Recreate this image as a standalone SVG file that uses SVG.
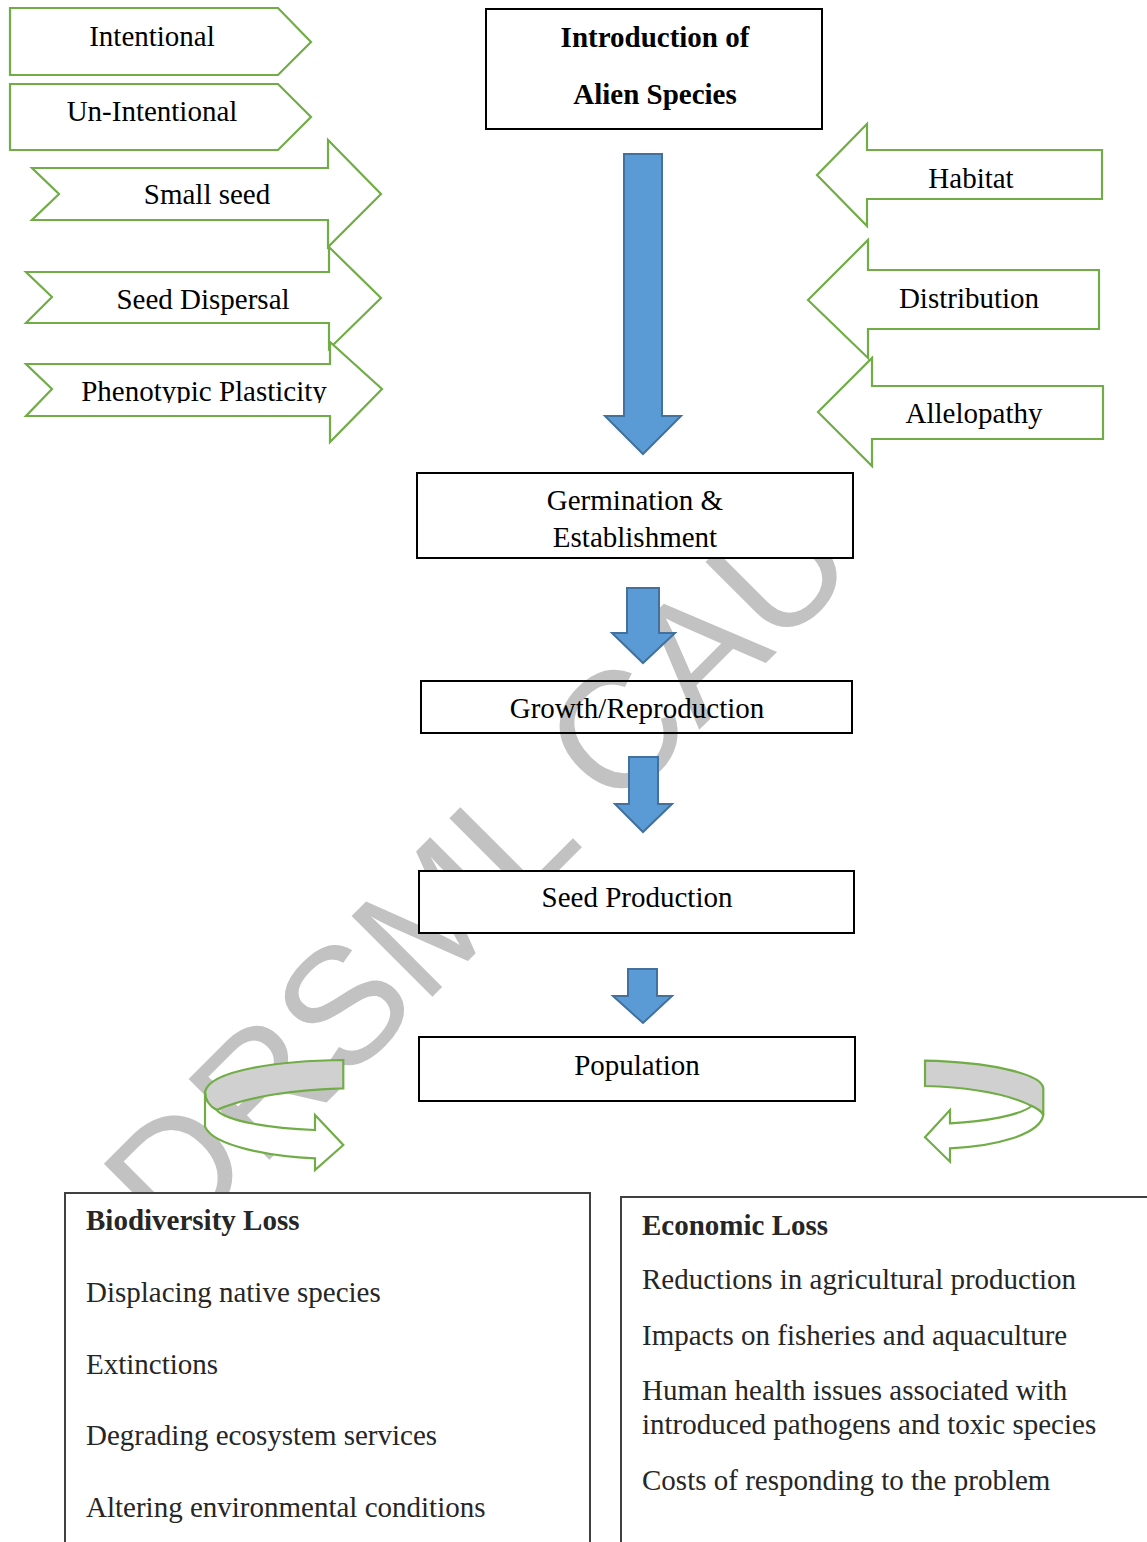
<svg xmlns="http://www.w3.org/2000/svg" width="1147" height="1542" viewBox="0 0 1147 1542">
<style>
.t{font-family:"Liberation Serif","Times New Roman",serif;font-size:29px;fill:#000}
.tb{font-family:"Liberation Serif","Times New Roman",serif;font-size:29px;font-weight:bold;fill:#000}
.c{text-anchor:middle}
.g{fill:#fff;stroke:#70ad47;stroke-width:2.2;stroke-linejoin:miter}
.box{fill:#fff;stroke:#000;stroke-width:2}
.blue{fill:#5b9bd5;stroke:#41719c;stroke-width:2}
.dk{fill:#262626}
.wm{font-family:"Liberation Sans",Arial,sans-serif;font-size:166px;fill:#c2c2c2}
</style>
<defs>
<clipPath id="clipPP"><rect x="0" y="360" width="400" height="43"/></clipPath>
</defs>
<rect width="1147" height="1542" fill="#fff"/>
<text class="wm" transform="translate(175,1254) rotate(-45)">DRSML CAU</text>

<g id="intentional">
<polygon class="g" points="10,8 278,8 311,42 278,75 10,75"/>
<text class="t c" x="152" y="46">Intentional</text>
</g>
<g id="unintentional">
<polygon class="g" points="10,84 278,84 311,117 278,150 10,150"/>
<text class="t c" x="152" y="121">Un-Intentional</text>
</g>
<g id="smallseed">
<polygon class="g" points="32,168 328,168 328,140 381,194 328,247 328,220 32,220 59,194"/>
<text class="t c" x="207" y="204">Small seed</text>
</g>
<g id="seeddispersal">
<polygon class="g" points="26,272 329,272 329,247 381,298 329,349 329,323 26,323 52,297"/>
<text class="t c" x="203" y="309">Seed Dispersal</text>
</g>
<g id="phenotypic">
<polygon class="g" points="26,364 330,364 330,342 382,389 330,442 330,416 26,416 52,389"/>
<text class="t c" x="204" y="401" clip-path="url(#clipPP)">Phenotypic Plasticity</text>
</g>

<g id="habitat">
<polygon class="g" points="1102,150 867,150 867,124 817,175 867,226 867,199 1102,199"/>
<text class="t c" x="971" y="188">Habitat</text>
</g>
<g id="distribution">
<polygon class="g" points="1099,270 868,270 868,240 808,300 868,358 868,329 1099,329"/>
<text class="t c" x="969" y="308">Distribution</text>
</g>
<g id="allelopathy">
<polygon class="g" points="1103,386 872,386 872,358 818,412 872,466 872,439 1103,439"/>
<text class="t c" x="974" y="423">Allelopathy</text>
</g>

<g id="introduction">
<rect class="box" x="486" y="9" width="336" height="120"/>
<text class="tb c" x="655" y="47">Introduction of</text>
<text class="tb c" x="655" y="104">Alien Species</text>
</g>
<g id="germination">
<rect class="box" x="417" y="473" width="436" height="85"/>
<text class="t c" x="635" y="510">Germination &amp;</text>
<text class="t c" x="635" y="547">Establishment</text>
</g>
<g id="growth">
<rect x="421" y="681" width="431" height="52" fill="none" stroke="#000" stroke-width="2"/>
<text class="t c" x="637" y="718">Growth/Reproduction</text>
</g>
<g id="seedproduction">
<rect class="box" x="419" y="871" width="435" height="62"/>
<text class="t c" x="637" y="907">Seed Production</text>
</g>
<g id="population">
<rect class="box" x="419" y="1037" width="436" height="64"/>
<text class="t c" x="637" y="1075">Population</text>
</g>

<g id="connectors">
<polygon class="blue" points="624,154 662,154 662,416 681,416 643,454 605,416 624,416"/>
<polygon class="blue" points="627,588 659,588 659,633 675,633 643,663 612,633 627,633"/>
<polygon class="blue" points="629,757 658,757 658,804 672,804 643,832 615,804 629,804"/>
<polygon class="blue" points="628,969 657,969 657,996 672,996 643,1023 613,996 628,996"/>
<g id="curved-left">
<path d="M343.3,1060 C280,1060.7 210,1070 205,1091.7 C205,1100 210,1106.7 216.7,1110 C246.7,1096.7 296.7,1089.3 343.3,1088.3 Z" fill="#d0d0d0" stroke="#70ad47" stroke-width="2.2"/>
<path d="M205,1091.7 L205,1126.7 C213.3,1146.7 273.3,1156.7 315,1158.3 L315,1170 L343.3,1145 L315,1115 L315,1130 C273.3,1128.3 226.7,1121.7 216.7,1110 C210,1106.7 205,1100 205,1091.7 Z" fill="#fff" stroke="#70ad47" stroke-width="2.2"/>
</g>
<g id="curved-right">
<path d="M925,1060.7 C986.7,1062 1041.7,1073.3 1043.3,1088.3 L1043.3,1115 C1041.7,1111.7 1036.7,1108.3 1031.7,1106 C1006.7,1093.3 966.7,1087.3 925,1086 Z" fill="#d0d0d0" stroke="#70ad47" stroke-width="2.2"/>
<path d="M1043.3,1115 C1040,1135 993.3,1146.7 950,1148.3 L950,1161.7 L925,1137.3 L950,1110 L950,1123.3 C986.7,1121.7 1020,1115 1031.7,1106 C1036.7,1108.3 1041.7,1111.7 1043.3,1115 Z" fill="#fff" stroke="#70ad47" stroke-width="2.2"/>
</g>
</g>

<g id="biodiversity">
<rect x="65" y="1193" width="525" height="360" fill="#fff" stroke="#404040" stroke-width="2"/>
<text class="tb dk" x="86" y="1230">Biodiversity Loss</text>
<text class="t dk" x="86" y="1302">Displacing native species</text>
<text class="t dk" x="86" y="1374">Extinctions</text>
<text class="t dk" x="86" y="1445">Degrading ecosystem services</text>
<text class="t dk" x="86" y="1517">Altering environmental conditions</text>
</g>
<g id="economic">
<rect x="621" y="1197" width="535" height="360" fill="#fff" stroke="#404040" stroke-width="2"/>
<text class="tb dk" x="642" y="1235">Economic Loss</text>
<text class="t dk" x="642" y="1289">Reductions in agricultural production</text>
<text class="t dk" x="642" y="1345">Impacts on fisheries and aquaculture</text>
<text class="t dk" x="642" y="1400">Human health issues associated with</text>
<text class="t dk" x="642" y="1434">introduced pathogens and toxic species</text>
<text class="t dk" x="642" y="1490">Costs of responding to the problem</text>
</g>
</svg>
